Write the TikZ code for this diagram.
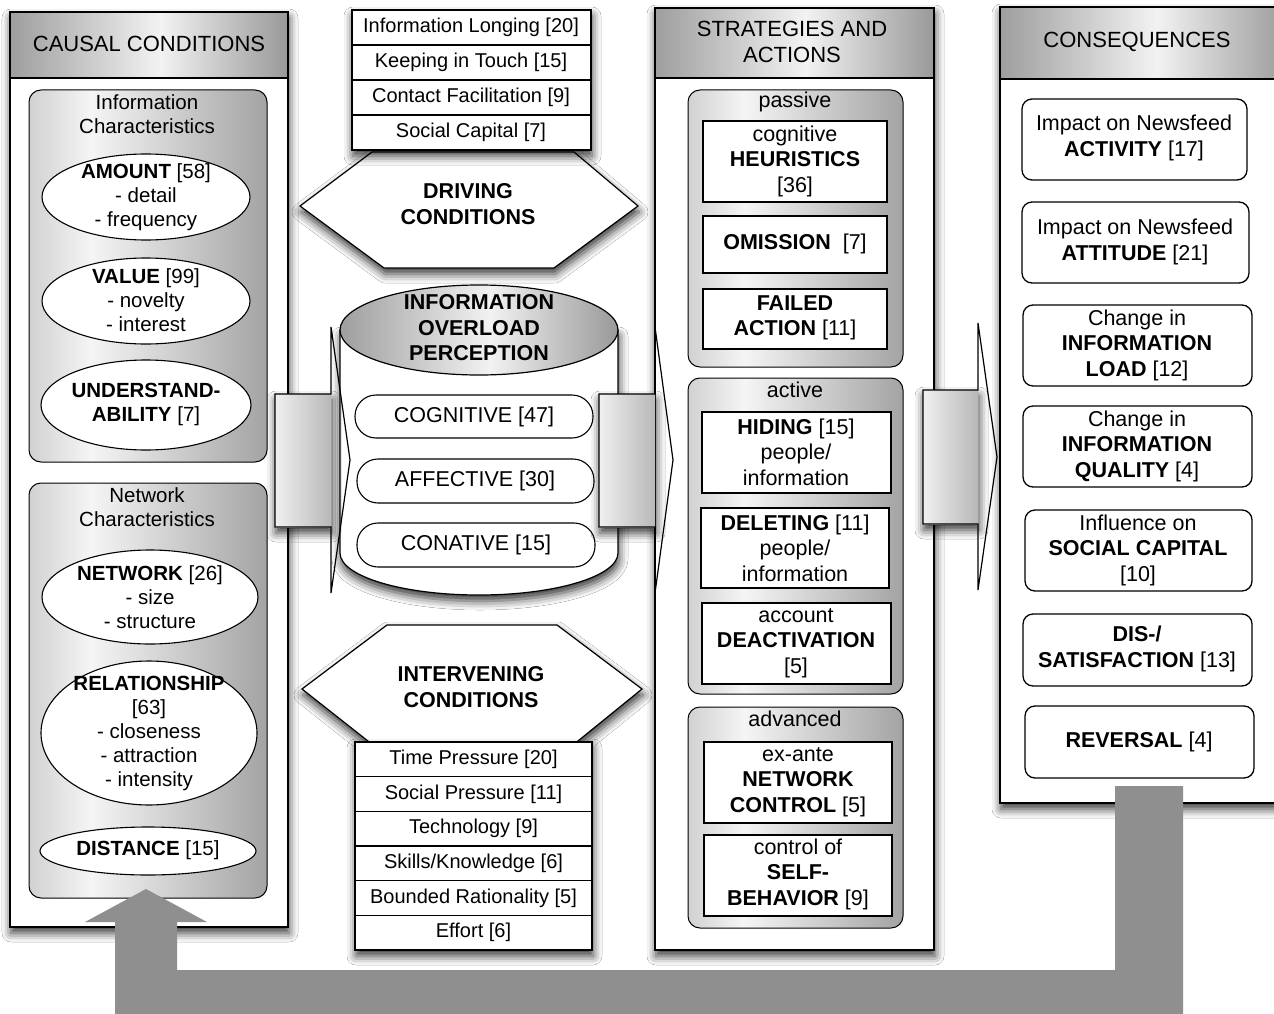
\documentclass[tikz,border=0pt]{standalone}
\usepackage{fontspec}
\setmainfont{Liberation Sans}
\usetikzlibrary{shadows.blur}
\newcommand{\myfh}{\fontsize{22}{26}\selectfont}
\newcommand{\myfb}{\fontsize{21.5}{25.5}\selectfont}
\newcommand{\myfc}{\fontsize{20.5}{24}\selectfont}
\newcommand{\myft}{\fontsize{20}{24}\selectfont}
\definecolor{fbgray}{RGB}{143,143,143}
\pgfdeclarehorizontalshading{hdrsh}{100bp}{color(0bp)=(black!38); color(25bp)=(black!38); color(52bp)=(black!5); color(75bp)=(black!40); color(100bp)=(black!40)}
\pgfdeclarehorizontalshading{grpsh}{100bp}{color(0bp)=(black!18); color(25bp)=(black!18); color(38bp)=(black!4); color(75bp)=(black!36); color(100bp)=(black!36)}
\pgfdeclarehorizontalshading{arrsh}{100bp}{color(0bp)=(black!6); color(25bp)=(black!6); color(75bp)=(black!28); color(100bp)=(black!28)}
\tikzset{
  shd/.style={blur shadow={shadow xshift=1pt, shadow yshift=-6pt, shadow blur radius=9pt, shadow opacity=80}},
  colbox/.style={draw=black, line width=1.6pt, fill=white, shd},
  hdrbox/.style={draw=black, line width=1.6pt, shading=hdrsh},
  grpbox/.style={draw=black, line width=1pt, rounded corners=12pt, shading=grpsh},
  ellbox/.style={draw=black, line width=1.1pt, fill=white},
  recbox/.style={draw=black, line width=1.3pt, fill=white},
  cbox/.style={draw=black, line width=1.3pt, rounded corners=10pt, fill=white},
  pillbox/.style={draw=black, line width=1.1pt, rounded corners=21pt, fill=white},
  tabbox/.style={draw=black, line width=1.3pt, fill=white},
  txt/.style={align=center, inner sep=0pt, font=\myfb},
  ctxt/.style={align=center, inner sep=0pt, font=\myfc},
  ttxt/.style={align=center, inner sep=0pt, font=\myft},
  arrline/.style={draw=black, line width=1.2pt}
}
\begin{document}
\begin{tikzpicture}[x=1pt,y=-1pt]
\useasboundingbox (0,0) rectangle (1274,1014);
\fill[white] (0,0) rectangle (1274,1014);

% ---------- Column 1: causal conditions
\draw[colbox] (10,12) rectangle (288,927);
\draw[hdrbox] (10,12) rectangle (288,78);
\node[txt,font=\myfh] (cchdr) at (149,44) {CAUSAL CONDITIONS};
\draw[grpbox] (29,90) rectangle (267,462);
\node[ctxt] (ich) at (147,114) {Information\\Characteristics};
\draw[ellbox] (146,197) ellipse [x radius=104, y radius=43];
\node[ctxt] (amt) at (146,197) {\textbf{AMOUNT} [58]\\- detail\\- frequency};
\draw[ellbox] (146,301) ellipse [x radius=104, y radius=43];
\node[ctxt] (val) at (146,300) {\textbf{VALUE} [99]\\- novelty\\- interest};
\draw[ellbox] (146,405) ellipse [x radius=105, y radius=45];
\node[ctxt] (und) at (146,404) {\textbf{UNDERSTAND-}\\\textbf{ABILITY} [7]};
\draw[grpbox] (29,483) rectangle (267,898);
\node[ctxt] (nch) at (147,507) {Network\\Characteristics};
\draw[ellbox] (150,597) ellipse [x radius=108, y radius=47];
\node[ctxt] (net) at (150,597) {\textbf{NETWORK} [26]\\- size\\- structure};
\draw[ellbox] (149,733) ellipse [x radius=108, y radius=72];
\node[ctxt] (rel) at (149,733) {\textbf{RELATIONSHIP}\\{[63]}\\- closeness\\- attraction\\- intensity};
\draw[ellbox] (148,851) ellipse [x radius=108, y radius=24];
\node[ctxt] (dist) at (148,850) {\textbf{DISTANCE} [15]};

% ---------- Middle: driving conditions
\draw[draw=black, line width=1.2pt, fill=white, shd] (300,206) -- (372,152) -- (574,152) -- (638,206) -- (554,268) -- (384,268) -- cycle;
\node[txt] (drv) at (468,204) {\textbf{DRIVING}\\\textbf{CONDITIONS}};
\draw[tabbox, shd] (352,10) rectangle (591,150);
\draw[line width=1.3pt] (352,45) -- (591,45) (352,80) -- (591,80) (352,115) -- (591,115);
\node[ttxt] (d1) at (471,27.5) {Information Longing [20]};
\node[ttxt] (d2) at (471,62.5) {Keeping in Touch [15]};
\node[ttxt] (d3) at (471,97.5) {Contact Facilitation [9]};
\node[ttxt] (d4) at (471,132.5) {Social Capital [7]};

% ---------- Middle: intervening conditions
\draw[draw=black, line width=1.2pt, fill=white, shd] (302,689) -- (387,625) -- (557,625) -- (642,689) -- (573,745) -- (373,745) -- cycle;
\node[txt] (itv) at (471,687) {\textbf{INTERVENING}\\\textbf{CONDITIONS}};
\draw[tabbox, shd] (355,742) rectangle (592,950);
\draw[line width=1.3pt] (355,776.7) -- (592,776.7) (355,811.3) -- (592,811.3) (355,846) -- (592,846) (355,880.7) -- (592,880.7) (355,915.3) -- (592,915.3);
\node[ttxt] (i1) at (473.5,759.3) {Time Pressure [20]};
\node[ttxt] (i2) at (473.5,794) {Social Pressure [11]};
\node[ttxt] (i3) at (473.5,828.7) {Technology [9]};
\node[ttxt] (i4) at (473.5,863.3) {Skills/Knowledge [6]};
\node[ttxt] (i5) at (473.5,898) {Bounded Rationality [5]};
\node[ttxt] (i6) at (473.5,932.7) {Effort [6]};

% ---------- Column 3: strategies
\draw[colbox] (655,8) rectangle (934,950);
\draw[hdrbox] (655,8) rectangle (934,78);
\node[txt,font=\myfh] (sahdr) at (792,42) {STRATEGIES AND\\ACTIONS};
\draw[grpbox] (688,90) rectangle (903,367);
\node[txt] (pas) at (795,102) {passive};
\draw[recbox] (703,121) rectangle (887,202);
\node[txt] (heu) at (795,161) {cognitive\\\textbf{HEURISTICS}\\{[36]}};
\draw[recbox] (703,216) rectangle (887,273);
\node[txt] (omi) at (795,244) {\textbf{OMISSION}\ \ [7]};
\draw[recbox] (703,289) rectangle (887,349);
\node[txt] (fai) at (795,318) {\textbf{FAILED}\\\textbf{ACTION} [11]};
\draw[grpbox] (688,378) rectangle (903,694);
\node[txt] (act) at (795,390) {active};
\draw[recbox] (702,412) rectangle (891,493);
\node[txt] (hid) at (796,452) {\textbf{HIDING} [15]\\people/\\information};
\draw[recbox] (701,508) rectangle (889,588);
\node[txt] (del) at (795,548) {\textbf{DELETING} [11]\\people/\\information};
\draw[recbox] (702,603) rectangle (891,684);
\node[txt] (dea) at (796,643) {account\\\textbf{DEACTIVATION}\\{[5]}};
\draw[grpbox] (688,707) rectangle (903,928);
\node[txt] (adv) at (795,719) {advanced};
\draw[recbox] (704,742) rectangle (892,823);
\node[txt] (nct) at (798,782) {ex-ante\\\textbf{NETWORK}\\\textbf{CONTROL} [5]};
\draw[recbox] (704,835) rectangle (892,916);
\node[txt] (slf) at (798,874) {control of\\\textbf{SELF-}\\\textbf{BEHAVIOR} [9]};

% ---------- Column 4: consequences
\draw[colbox] (1000,7) rectangle (1290,803);
\draw[hdrbox] (1000,7) rectangle (1290,79);
\node[txt,font=\myfh] (cohdr) at (1137,42) {CONSEQUENCES};
\draw[cbox] (1022,99) rectangle (1247,180);
\node[txt] (c1) at (1134,138) {Impact on Newsfeed\\\textbf{ACTIVITY} [17]};
\draw[cbox] (1022,202) rectangle (1249,283);
\node[txt] (c2) at (1135,242) {Impact on Newsfeed\\\textbf{ATTITUDE} [21]};
\draw[cbox] (1023,305) rectangle (1252,386);
\node[txt] (c3) at (1137,345) {Change in\\\textbf{INFORMATION}\\\textbf{LOAD} [12]};
\draw[cbox] (1023,406) rectangle (1252,487);
\node[txt] (c4) at (1137,446) {Change in\\\textbf{INFORMATION}\\\textbf{QUALITY} [4]};
\draw[cbox] (1025,510) rectangle (1252,591);
\node[txt] (c5) at (1138,550) {Influence on\\\textbf{SOCIAL CAPITAL}\\{[10]}};
\draw[cbox] (1023,614) rectangle (1252,686);
\node[txt] (c6) at (1137,649) {\textbf{DIS-/}\\\textbf{SATISFACTION} [13]};
\draw[cbox] (1025,706) rectangle (1254,778);
\node[txt] (c7) at (1139,742) {\textbf{REVERSAL} [4]};

% ---------- Cylinder: information overload perception
\draw[draw=black, line width=1.2pt, fill=white, shd] (340,330) -- (340,553) arc[start angle=180, end angle=0, x radius=139, y radius=42] -- (618,330) -- cycle;
\draw[draw=black, line width=1.2pt, shading=hdrsh] (479,330) ellipse [x radius=139, y radius=45];
\node[txt] (iop) at (479,328) {\textbf{INFORMATION}\\\textbf{OVERLOAD}\\\textbf{PERCEPTION}};
\draw[pillbox] (355,395) rectangle (593,438);
\node[txt] (cog) at (474,417) {COGNITIVE [47]};
\draw[pillbox] (357,459) rectangle (594,503);
\node[txt] (aff) at (475,481) {AFFECTIVE [30]};
\draw[pillbox] (357,523) rectangle (595,567);
\node[txt] (con) at (476,545) {CONATIVE [15]};

% ---------- Block arrows between columns
\path[shd, shading=arrsh] (275,394) rectangle (331,527);
\draw[arrline] (275,394) -- (331,394) -- (331,327) -- (350,460) -- (331,593) -- (331,527) -- (275,527) -- cycle;
\path[shd, shading=arrsh] (599,394) rectangle (655,527);
\draw[arrline] (599,394) -- (655,394) -- (655,327) -- (673,460) -- (655,593) -- (655,527) -- (599,527) -- cycle;
\path[shd, shading=arrsh] (923,390) rectangle (978,524);
\draw[arrline] (923,390) -- (978,390) -- (978,323) -- (997,457) -- (978,590) -- (978,524) -- (923,524) -- cycle;

% ---------- Feedback arrow
\fill[fbgray] (1115,786) -- (1183,786) -- (1183,1020) -- (115,1020) -- (115,922) -- (85,922) -- (146,889) -- (207,922) -- (177,922) -- (177,970) -- (1115,970) -- cycle;
\end{tikzpicture}
\end{document}
